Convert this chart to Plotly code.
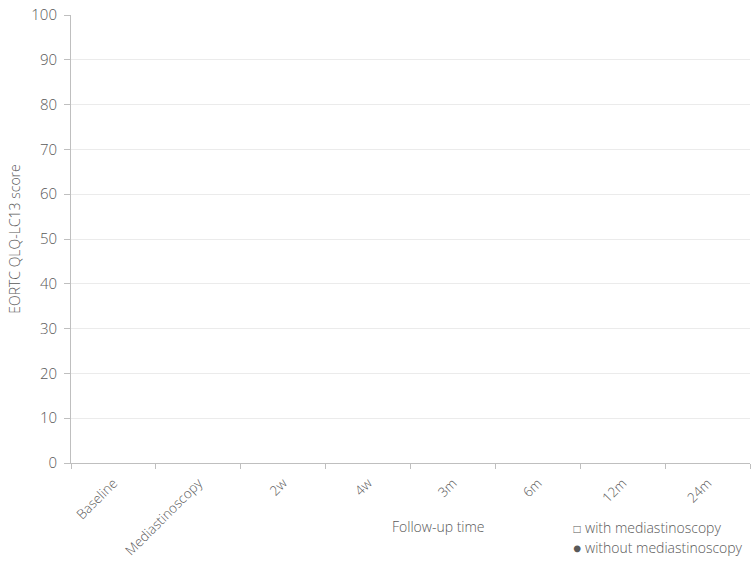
import plotly.graph_objects as go

# Follow-up time points on the x axis
timepoints = ["Baseline", "Mediastinoscopy", "2w", "4w", "3m", "6m", "12m", "24m"]

# EORTC QLQ-LC13 scores per group (no values recorded)
with_mediastinoscopy = [None] * len(timepoints)
without_mediastinoscopy = [None] * len(timepoints)

# Y axis ticks
y_ticks = list(range(0, 101, 10))

font_family = "Open Sans, Lato, sans-serif"
text_color = "#595959"

fig = go.Figure()
fig.add_trace(go.Scatter(
    x=timepoints, y=with_mediastinoscopy, mode="markers+lines",
    name="with mediastinoscopy",
    marker=dict(symbol="square-open", color="black", size=7),
    line=dict(color="black", width=1),
    showlegend=False,
))
fig.add_trace(go.Scatter(
    x=timepoints, y=without_mediastinoscopy, mode="markers+lines",
    name="without mediastinoscopy",
    marker=dict(symbol="circle", color="black", size=7),
    line=dict(color="black", width=1),
    showlegend=False,
))

fig.update_layout(
    width=756, height=561,
    margin=dict(l=71, r=6, t=15, b=98, autoexpand=False),
    paper_bgcolor="white", plot_bgcolor="white",
    font=dict(family=font_family, size=14, color=text_color, weight=300),
    xaxis=dict(
        type="category",
        categoryorder="array", categoryarray=timepoints,
        range=[-0.5, len(timepoints) - 0.5],
        automargin=False,
        tickangle=-45,
        tickson="boundaries",
        ticks="outside", ticklen=5, tickcolor="#bfbfbf",
        ticklabelstandoff=6,
        showgrid=False,
        showline=True, linecolor="#bfbfbf", linewidth=1,
        zeroline=False,
        tickfont=dict(size=13.5, color=text_color, weight=300),
    ),
    yaxis=dict(
        range=[0, 100],
        tickvals=y_ticks,
        automargin=False,
        ticks="outside", ticklen=6, tickcolor="#bfbfbf",
        ticklabelstandoff=4,
        showgrid=True, gridcolor="#ebebeb", gridwidth=1,
        showline=True, linecolor="#bfbfbf", linewidth=1,
        zeroline=False,
        tickfont=dict(size=15, color=text_color, weight=300),
        title=dict(text="EORTC QLQ-LC13 score",
                   font=dict(size=14, color=text_color, weight=300), standoff=7),
    ),
)

# X axis title and group key
fig.add_annotation(
    text="Follow-up time", x=(438 - 71) / 679, y=(463 - 526) / 448,
    xref="paper", yref="paper", xanchor="center", yanchor="middle",
    showarrow=False, font=dict(size=14, color=text_color, weight=300),
)
fig.add_annotation(
    text="□ with mediastinoscopy", x=(571 - 71) / 679, y=(463 - 527) / 448,
    xref="paper", yref="paper", xanchor="left", yanchor="middle",
    showarrow=False, font=dict(size=14, color=text_color, weight=300),
)
fig.add_annotation(
    text="● without mediastinoscopy", x=(571 - 71) / 679, y=(463 - 547) / 448,
    xref="paper", yref="paper", xanchor="left", yanchor="middle",
    showarrow=False, font=dict(size=14, color=text_color, weight=300),
)

fig.write_html("out.html")
